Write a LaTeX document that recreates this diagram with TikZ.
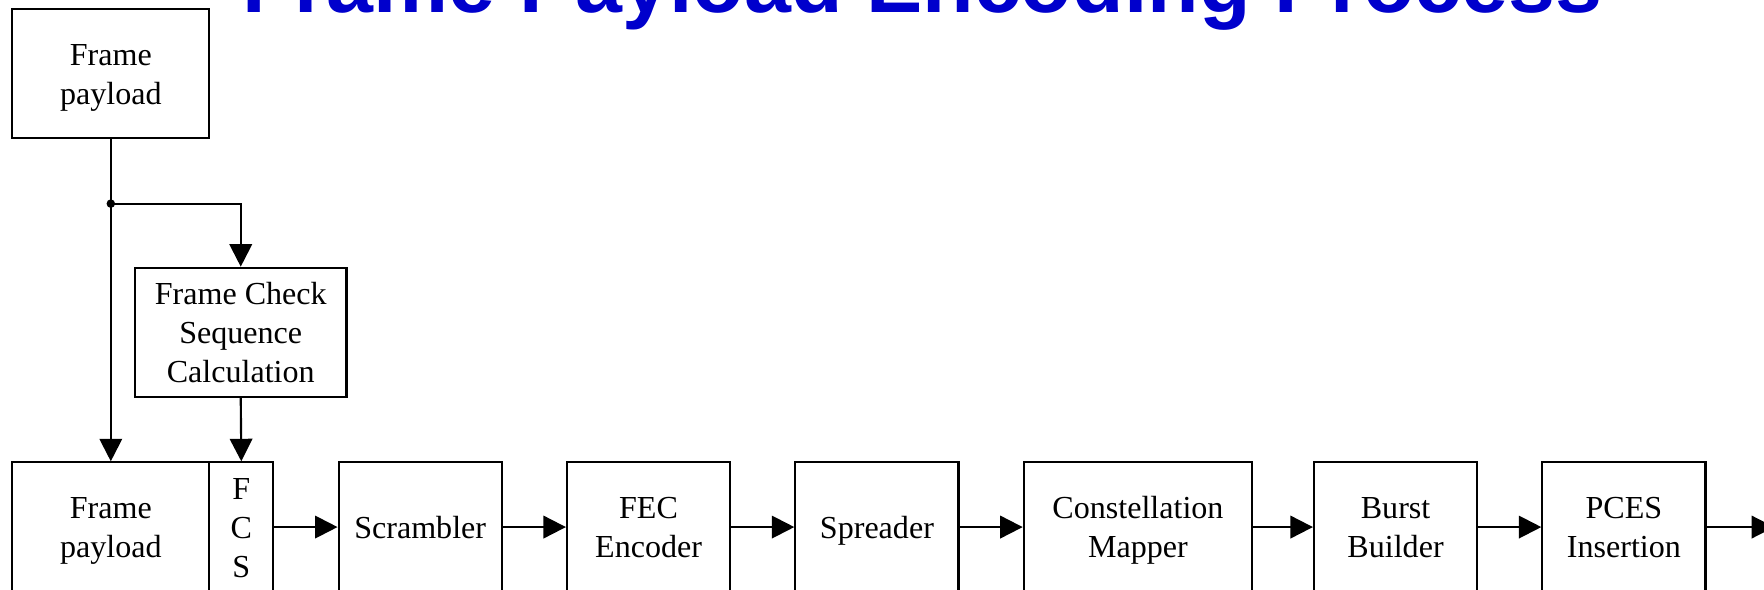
\documentclass[tikz,border=0pt]{standalone}
\usepackage{fontspec}
\setmainfont{Liberation Serif}
\newfontfamily\titlefont{Liberation Sans}
\usetikzlibrary{arrows.meta}
\definecolor{titleblue}{RGB}{0,0,204}
\newcommand{\mys}{\rule[-6.5pt]{0pt}{33pt}}
\begin{document}
\begin{tikzpicture}[x=1pt,y=-1pt,
  blk/.style={draw,line width=1.9pt,inner sep=0pt,align=center,
    font=\fontsize{28.5}{34.5}\selectfont},
  conn/.style={line width=1.9pt,-{Triangle[length=20pt,width=20pt]}},
  ]
\useasboundingbox (0,0) rectangle (1568,524);
\node[font=\titlefont\bfseries\fontsize{75}{80}\selectfont, text=titleblue, anchor=base] (title) at (820,11) {Frame Payload Encoding Process};
\node[blk, minimum width=175pt, minimum height=115pt] (fp1) at (98.5,65.5) {\mys Frame\\\mys payload};
\node[blk, minimum width=188pt, minimum height=115pt] (fcsc) at (214,295.5) {\mys Frame Check\\\mys Sequence\\\mys Calculation};
\node[blk, minimum width=175pt, minimum height=115pt] (fp2) at (98.5,468.5) {\mys Frame\\\mys payload};
\node[blk, minimum width=57pt, minimum height=115pt] (fcs) at (214.5,468.5) {\mys F\\\mys C\\\mys S};
\node[blk, minimum width=145pt, minimum height=115pt] (scr) at (373.5,468.5) {\mys Scrambler};
\node[blk, minimum width=145pt, minimum height=115pt] (fec) at (576.5,468.5) {\mys FEC\\\mys Encoder};
\node[blk, minimum width=145pt, minimum height=115pt] (spr) at (779.5,468.5) {\mys Spreader};
\node[blk, minimum width=203pt, minimum height=115pt] (con) at (1011.5,468.5) {\mys Constellation\\\mys Mapper};
\node[blk, minimum width=145pt, minimum height=115pt] (bb) at (1240.5,468.5) {\mys Burst\\\mys Builder};
\node[blk, minimum width=145pt, minimum height=115pt] (pces) at (1443.5,468.5) {\mys PCES\\\mys Insertion};
\coordinate (j) at (98.5,181);
\coordinate (out) at (1577,468.5);
\draw[conn] (fp1.south) -- (fp2.north);
\fill (j) circle (3.8pt);
\draw[conn] (j) -| (fcsc.north);
\draw[conn] (fcsc.south) -- (fcs.north);
\draw[conn] (fcs.east) -- (scr.west);
\draw[conn] (scr.east) -- (fec.west);
\draw[conn] (fec.east) -- (spr.west);
\draw[conn] (spr.east) -- (con.west);
\draw[conn] (con.east) -- (bb.west);
\draw[conn] (bb.east) -- (pces.west);
\draw[conn] (pces.east) -- (out);
\end{tikzpicture}
\end{document}
